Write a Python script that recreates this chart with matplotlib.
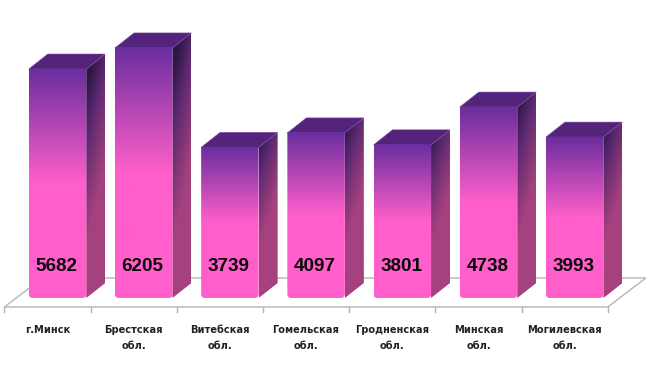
import numpy as np
import matplotlib
matplotlib.use("Agg")
import matplotlib.pyplot as plt
from matplotlib.colors import LinearSegmentedColormap
from matplotlib.patches import FancyBboxPatch, Polygon

categories = ["г.Минск", "Брестская\nобл.", "Витебская\nобл.", "Гомельская\nобл.",
              "Гродненская\nобл.", "Минская\nобл.", "Могилевская\nобл."]
values = [5682, 6205, 3739, 4097, 3801, 4738, 3993]

# пиксели картинки -> единицы данных
PX_X = 86.2      # px на категорию
PX_Y = 0.0403    # px на единицу значения
X0, Y0 = 57.5, 298
BAR_W = 57.5 / PX_X
DX, DY = 19 / PX_X, 15 / PX_Y         # глубина столбца
FL_DX, FL_DY = 38 / PX_X, 29 / PX_Y   # глубина пола
FL_X, FL_Y = -10 / PX_X, -9 / PX_Y    # сдвиг пола относительно столбцов
GREY = "#b5b5b5"

front_cmap = LinearSegmentedColormap.from_list(
    "front", [(0, "#6a2e9e"), (0.5, "#ff5fca"), (1, "#ff5fca")])
side_cmap = LinearSegmentedColormap.from_list(
    "side", [(0, "#2e1745"), (0.35, "#5a2870"), (0.65, "#7d3474"), (1, "#a5417f")])

fig = plt.figure(figsize=(6.49, 3.68), dpi=100)
ax = fig.add_axes([0, 0, 1, 1])
ax.set_xlim(-X0 / PX_X, (649 - X0) / PX_X)
ax.set_ylim((Y0 - 368) / PX_Y, Y0 / PX_Y)
ax.axis("off")

# пол
n = len(categories)
fl_l, fl_r = -0.5 + FL_X, n - 0.5 + FL_X
floor = [(fl_l, FL_Y), (fl_r, FL_Y), (fl_r + FL_DX, FL_Y + FL_DY), (fl_l + FL_DX, FL_Y + FL_DY)]
ax.add_patch(Polygon(floor, closed=True, fc="white", ec=GREY, lw=1, zorder=1))
for i in range(n + 1):
    ax.plot([fl_l + i, fl_l + i], [FL_Y, FL_Y - 5 / PX_Y], color=GREY, lw=1, zorder=1)

for i, (name, v) in enumerate(zip(categories, values)):
    l, r = i - BAR_W / 2, i + BAR_W / 2

    # боковая грань
    u, t = np.meshgrid(np.linspace(0, 1, 40), np.linspace(0, 1, 200))
    side = np.clip(t * 1.55 + u * 0.5 - 0.25 + (1 - v / 6205) * 0.5, 0, 1)
    im = ax.imshow(side, cmap=side_cmap, vmin=0, vmax=1, origin="upper", aspect="auto",
                   extent=(r, r + DX, 0, v + DY), zorder=3, interpolation="bilinear")
    poly = Polygon([(r, 0), (r + DX, DY), (r + DX, v + DY), (r, v)], closed=True,
                   transform=ax.transData, fc="none", ec="none")
    ax.add_patch(poly)
    im.set_clip_path(poly)

    # верхняя грань
    ax.add_patch(Polygon([(l, v), (r, v), (r + DX, v + DY), (l + DX, v + DY)], closed=True,
                         fc="#54247c", ec="#7d4fa3", lw=0.4, zorder=3))

    # передняя грань со скруглённым низом
    grad = np.linspace(0, 1, 256).reshape(-1, 1)
    im = ax.imshow(grad, cmap=front_cmap, vmin=0, vmax=1, origin="upper", aspect="auto",
                   extent=(l, r, 0, v), zorder=4, interpolation="bilinear")
    body = FancyBboxPatch((l, 0), BAR_W, v + 300, boxstyle=f"round,pad=0,rounding_size={4 / PX_X}",
                          mutation_aspect=PX_X / PX_Y, fc="none", ec="none")
    ax.add_patch(body)
    im.set_clip_path(body)

    ax.text(i - 1 / PX_X, 31.5 / PX_Y, str(v), ha="center", va="center", fontsize=13.6,
            fontweight="bold", family="Liberation Sans", color="#0a0a0a", zorder=5)
    # подписи под осью
    ax.text(fl_l + i + 0.5, -27 / PX_Y, name, ha="center", va="top", fontsize=7.1, fontweight="bold",
            family="DejaVu Sans", color="#222222", linespacing=1.8, zorder=5)

# imshow сбивает пределы
ax.set_xlim(-X0 / PX_X, (649 - X0) / PX_X)
ax.set_ylim((Y0 - 368) / PX_Y, Y0 / PX_Y)

fig.savefig("out.png", dpi=100)
